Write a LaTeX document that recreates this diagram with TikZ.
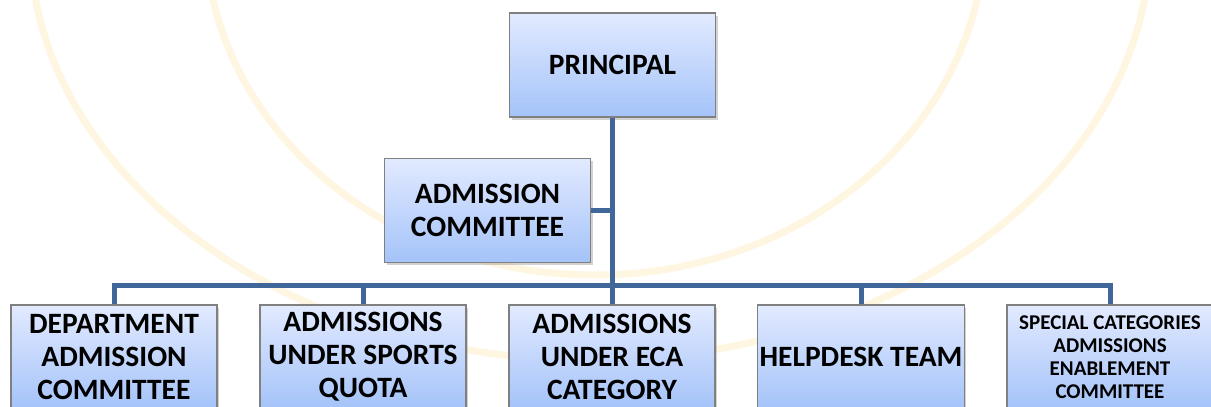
\documentclass[tikz,border=0pt]{standalone}
\usepackage{fontspec}
\setmainfont{Carlito}
\usetikzlibrary{shadows}
\definecolor{boxtop}{RGB}{226,234,255}
\definecolor{boxbot}{RGB}{164,195,249}
\definecolor{boxline}{RGB}{128,128,128}
\definecolor{conncol}{RGB}{65,103,154}
\definecolor{wmcol}{RGB}{255,246,226}
\tikzset{
  orgbox/.style={rectangle, draw=boxline, line width=1.1pt, top color=boxtop, bottom color=boxbot,
    minimum width=206pt, minimum height=104pt, inner sep=2pt, align=center,
    font=\bfseries\fontsize{29.5}{33}\selectfont,
    drop shadow={opacity=0.35, shadow xshift=2pt, shadow yshift=-2.5pt}},
  smalltext/.style={font=\bfseries\fontsize{21}{23}\selectfont},
  conn/.style={draw=conncol, line width=5pt, line join=miter},
  wm/.style={draw=wmcol, line width=7pt}
}
\begin{document}
\begin{tikzpicture}[x=1pt,y=-1pt]
\useasboundingbox (0,0) rectangle (1211,407);
\clip (0,0) rectangle (1211,407);
\fill[white] (0,0) rectangle (1211,407);
% faint watermark seal
\draw[wm] (590,-60) ellipse [x radius=560pt, y radius=420pt];
\draw[wm] (595,-70) ellipse [x radius=390pt, y radius=345pt];
% nodes
\node[orgbox] (prin) at (612.5,65) {PRINCIPAL};
\node[orgbox] (adm) at (487.5,210.5) {ADMISSION\\COMMITTEE};
\coordinate (bus) at (612,285);
\node[orgbox] (b1) at (114,357) {DEPARTMENT\\ADMISSION\\COMMITTEE};
\node[orgbox] (b2) at (363,357) {ADMISSIONS\\UNDER SPORTS\\QUOTA};
\node[orgbox] (b3) at (612,357) {ADMISSIONS\\UNDER ECA\\CATEGORY};
\node[orgbox] (b4) at (861,357) {HELPDESK TEAM};
\node[orgbox, smalltext] (b5) at (1110,357) {SPECIAL CATEGORIES\\ADMISSIONS\\ENABLEMENT\\COMMITTEE};
% connectors
\draw[conn] (prin.south) -- (prin.south |- bus);
\draw[conn] (adm.east) -- (adm.east -| prin.south);
\draw[conn] (b1.north) |- (bus) -| (b5.north);
\draw[conn] (b2.north) -- (b2.north |- bus);
\draw[conn] (b3.north) -- (b3.north |- bus);
\draw[conn] (b4.north) -- (b4.north |- bus);
\end{tikzpicture}
\end{document}
